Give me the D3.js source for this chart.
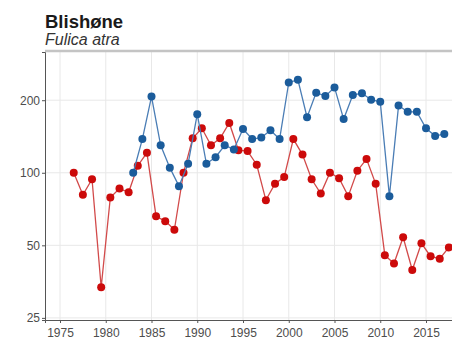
<!DOCTYPE html>
<html>
<head>
<meta charset="utf-8">
<script src="https://cdn.jsdelivr.net/npm/d3@7"></script>
<style>
  body { margin: 0; background: #fff; }
  svg { display: block; font-family: "Liberation Sans", Arial, sans-serif; }
</style>
</head>
<body>
<div id="chart"></div>
<script>
// winter counts (red), plotted mid-season
var redYears = d3.range(1976, 2018);
var redValues = [100, 81, 94, 33.5, 79, 86, 83, 107, 121, 66,
  63, 58, 100, 139, 153, 130, 139, 161, 124, 123,
  108, 77, 90, 96, 138, 119, 94, 82, 100, 95,
  80, 102, 114, 90, 45.5, 42, 54, 39.5, 51, 45,
  44, 49];

// breeding counts (blue)
var blueYears = d3.range(1983, 2018);
var blueValues = [100, 138, 207, 130, 105, 88, 109, 175, 109, 116,
  130, 125, 152, 138, 140, 150, 138, 237, 243, 170,
  215, 208, 226, 167, 210, 214, 201, 197, 80, 190,
  179, 179, 153, 142, 145];

var xTicks = [1975, 1980, 1985, 1990, 1995, 2000, 2005, 2010, 2015];
var yTicks = [25, 50, 100, 200];

var width = 452, height = 340;
var plotLeft = 45, plotTop = 52, plotBottom = 320;

var svg = d3.select("#chart").append("svg")
    .attr("width", width)
    .attr("height", height);

var x = d3.scaleLinear()
    .domain([1973.36, 2022])
    .range([plotLeft, plotLeft + (2022 - 1973.36) * 9.15]);

var y = d3.scaleLog()
    .domain([24.5, 317])
    .range([plotBottom, plotTop]);

// grid
svg.append("g")
    .selectAll("line")
    .data(xTicks)
    .enter().append("line")
    .attr("x1", function(d) { return x(d); })
    .attr("x2", function(d) { return x(d); })
    .attr("y1", plotTop)
    .attr("y2", plotBottom)
    .attr("stroke", "#e8e8e8");

svg.append("g")
    .selectAll("line")
    .data(yTicks)
    .enter().append("line")
    .attr("x1", plotLeft)
    .attr("x2", width)
    .attr("y1", function(d) { return y(d); })
    .attr("y2", function(d) { return y(d); })
    .attr("stroke", "#e8e8e8");

// panel top border
svg.append("line")
    .attr("x1", plotLeft).attr("x2", width)
    .attr("y1", plotTop - 1).attr("y2", plotTop - 1)
    .attr("stroke", "#c4c4c4")
    .attr("stroke-width", 2.5);

// axes
var xAxis = svg.append("g")
    .attr("transform", "translate(0," + plotBottom + ")")
    .call(d3.axisBottom(x).tickValues(xTicks).tickFormat(d3.format("d")).tickSize(3).tickPadding(5));

var yAxis = svg.append("g")
    .attr("transform", "translate(" + plotLeft + ",0)")
    .call(d3.axisLeft(y).tickValues(yTicks).tickFormat(d3.format("d")).tickSize(3).tickPadding(2));

[xAxis, yAxis].forEach(function(a) {
  a.select(".domain").attr("stroke", "#555");
  a.selectAll(".tick line").attr("stroke", "#555");
  a.selectAll("text")
    .attr("fill", "#4d4d4d")
    .style("font-size", "12px")
    .style("font-family", "Liberation Sans, Arial, sans-serif");
});

// series
var series = [
  { years: redYears, values: redValues, offset: 0.5, line: "#d24a4a", point: "#cc0a0a" },
  { years: blueYears, values: blueValues, offset: 0, line: "#4a7db5", point: "#1b5c9b" }
];

series.forEach(function(s) {
  var pts = s.years.map(function(yr, i) { return [yr + s.offset, s.values[i]]; });
  svg.append("path")
      .datum(pts)
      .attr("fill", "none")
      .attr("stroke", s.line)
      .attr("stroke-width", 1.3)
      .attr("d", d3.line()
        .x(function(d) { return x(d[0]); })
        .y(function(d) { return y(d[1]); }));
  svg.append("g")
      .selectAll("circle")
      .data(pts)
      .enter().append("circle")
      .attr("cx", function(d) { return x(d[0]); })
      .attr("cy", function(d) { return y(d[1]); })
      .attr("r", 4)
      .attr("fill", s.point);
});

// titles
svg.append("text")
    .attr("x", plotLeft)
    .attr("y", 28)
    .attr("font-size", 18.5)
    .attr("font-weight", "bold")
    .attr("fill", "#1a1a1a")
    .text("Blishøne");

svg.append("text")
    .attr("x", plotLeft)
    .attr("y", 45)
    .attr("font-size", 16)
    .attr("font-style", "italic")
    .attr("fill", "#333")
    .text("Fulica atra");
</script>
</body>
</html>
